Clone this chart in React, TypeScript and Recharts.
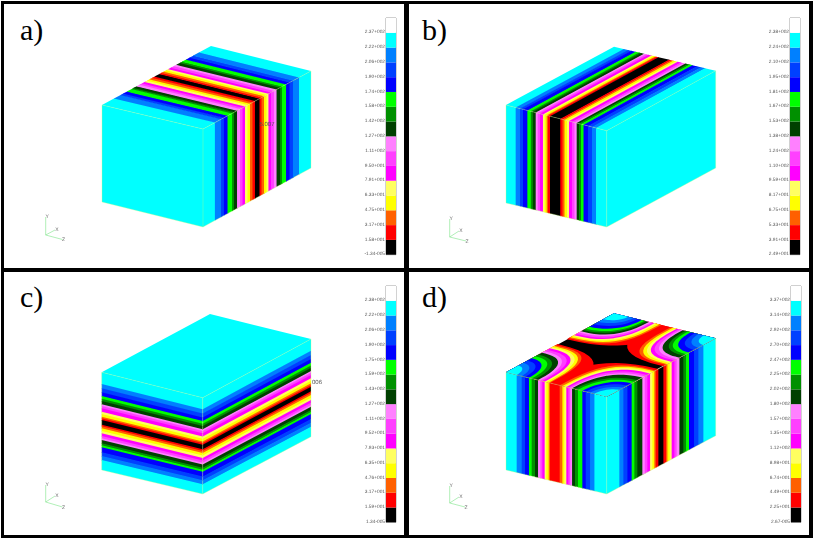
import {
  Area,
  Bar,
  BarChart,
  ComposedChart,
  Line,
  ReferenceArea,
  ReferenceDot,
  XAxis,
  YAxis,
} from "recharts";

// contour colours, bottom of the scale first
const scaleColours = [
  "#000000", "#ff0000", "#ff6000", "#ffff00", "#ffff60", "#ff00ff", "#ff40ff", "#ff80ff",
  "#004000", "#009000", "#00ff00", "#0000ff", "#0040ff", "#0080ff", "#00ffff", "#ffffff",
];
const falling = scaleColours.slice(1, 15).reverse(); // cyan ... red
const stripes = [...falling, "#000000", ...[...falling].reverse()];
const stripesNoBlack = [...falling, ...[...falling].slice(0, 13).reverse()];

// scale labels, bottom of the scale first
const labelsA = ["-1.34-005", "1.58+001", "3.17+001", "4.75+001", "6.33+001", "7.91+001", "9.50+001", "1.11+002", "1.27+002", "1.42+002", "1.58+002", "1.74+002", "1.90+002", "2.06+002", "2.22+002", "2.37+002"];
const labelsB = ["2.49+001", "3.91+001", "5.33+001", "6.75+001", "8.17+001", "9.59+001", "1.10+002", "1.24+002", "1.38+002", "1.53+002", "1.67+002", "1.81+002", "1.95+002", "2.10+002", "2.24+002", "2.38+002"];
const labelsC = ["1.34-005", "1.59+001", "3.17+001", "4.76+001", "6.35+001", "7.93+001", "9.52+001", "1.11+002", "1.27+002", "1.43+002", "1.59+002", "1.75+002", "1.90+002", "2.06+002", "2.22+002", "2.38+002"];
const labelsD = ["2.67-005", "2.25+001", "4.49+001", "6.74+001", "8.98+001", "1.12+002", "1.35+002", "1.57+002", "1.80+002", "2.02+002", "2.25+002", "2.47+002", "2.70+002", "2.92+002", "3.14+002", "3.37+002"];

// band edges read across each face, as a fraction of the face
const edgesA = [0.11, 0.167, 0.194, 0.227, 0.269, 0.287, 0.315, 0.343, 0.366, 0.389, 0.412, 0.435, 0.458, 0.481, 0.523, 0.542, 0.565, 0.588, 0.606, 0.63, 0.657, 0.681, 0.713, 0.731, 0.769, 0.801, 0.833, 0.889];
const edgesB = [0.096, 0.139, 0.169, 0.212, 0.246, 0.266, 0.295, 0.315, 0.338, 0.367, 0.384, 0.404, 0.417, 0.437, 0.539, 0.561, 0.581, 0.606, 0.626, 0.655, 0.68, 0.702, 0.725, 0.745, 0.77, 0.814, 0.854, 0.894];
const edgesC = [0.119, 0.164, 0.205, 0.242, 0.27, 0.294, 0.328, 0.345, 0.369, 0.403, 0.427, 0.454, 0.471, 0.488, 0.536, 0.553, 0.573, 0.601, 0.625, 0.652, 0.676, 0.693, 0.727, 0.747, 0.768, 0.819, 0.857, 0.898];

// panel d, distance of each contour from a corner along an edge
const lfFromL = [0.106, 0.156, 0.189, 0.228, 0.255, 0.288, 0.318, 0.341, 0.361, 0.384, 0.401, 0.424, 0.437, 0.62];
const lfFromF = [0.122, 0.165, 0.208, 0.242, 0.285, 0.315, 0.344, 0.361, 0.381, 0.401, 0.421, 0.44, 0.467, 0.62];
const frFromF = [0.116, 0.153, 0.19, 0.229, 0.254, 0.281, 0.327, 0.349, 0.373, 0.398, 0.419, 0.437, 0.45, 0.474];
const frFromR = [0.113, 0.159, 0.199, 0.245, 0.272, 0.297, 0.333, 0.358, 0.379, 0.404, 0.422, 0.443, 0.456, 0.48];
const brFromR = [0.115, 0.167, 0.203, 0.243, 0.272, 0.298, 0.325, 0.344, 0.364, 0.384, 0.4, 0.423, 0.443, 0.62];
const brFromB = [0.141, 0.19, 0.23, 0.272, 0.298, 0.32, 0.344, 0.364, 0.38, 0.397, 0.42, 0.446, 0.466, 0.62];
const lbFromB = [0.1, 0.145, 0.185, 0.228, 0.26, 0.284, 0.306, 0.327, 0.349, 0.37, 0.386, 0.404, 0.42, 0.438];
const lbFromL = [0.114, 0.16, 0.198, 0.238, 0.272, 0.3, 0.333, 0.358, 0.383, 0.407, 0.426, 0.444, 0.46, 0.478];
const contourRoundness = [2, 2, 2.2, 2.2, 2.4, 2.4, 2.6, 2.6, 2.8, 2.8, 3, 3, 3.2, 2.6];

type Pt = { x: number; y: number };
type Patch = { colour: string; corners: Pt[] };

const lerp = (a: Pt, b: Pt, f: number): Pt => ({ x: a.x + (b.x - a.x) * f, y: a.y + (b.y - a.y) * f });

// a closed outline as rows for a range Area: lowest and highest y at every x
const toRows = (poly: Pt[]) => {
  const xs = [...new Set(poly.map((p) => p.x))].sort((a, b) => a - b);
  return xs.map((x) => {
    const ys: number[] = [];
    poly.forEach((p, i) => {
      const q = poly[(i + 1) % poly.length];
      if (p.x === q.x) {
        if (p.x === x) ys.push(p.y, q.y);
      } else if (x >= Math.min(p.x, q.x) && x <= Math.max(p.x, q.x)) {
        ys.push(p.y + ((q.y - p.y) * (x - p.x)) / (q.x - p.x));
      }
    });
    return { x, band: [Math.min(...ys), Math.max(...ys)] };
  });
};

// stripes across a face, each runs a little under the next one so no seams show
const faceStripes = (p00: Pt, p01: Pt, p10: Pt, p11: Pt, edges: number[], colours: string[]): Patch[] => {
  const from = [0, ...edges];
  return from.map((f, i) => {
    const to = i + 1 < from.length ? from[i + 1] + 0.008 : 1;
    return {
      colour: colours[i],
      corners: [lerp(p00, p10, f), lerp(p01, p11, f), lerp(p01, p11, to), lerp(p00, p10, to)],
    };
  });
};

const plainFace = (corners: Pt[], colour = "#00ffff"): Patch[] => [{ colour, corners }];

// one contour around a corner of the top face of panel d
const cornerContour = (c: Pt, e1: Pt, e2: Pt, a: number, b: number, p: number): Pt[] => {
  const out: Pt[] = [c];
  for (let k = 0; k <= 12; k++) {
    const th = (k / 12) * (Math.PI / 2);
    const s = a * Math.pow(Math.cos(th), 2 / p);
    const t = b * Math.pow(Math.sin(th), 2 / p);
    out.push({
      x: c.x + (e1.x - c.x) * s + (e2.x - c.x) * t,
      y: c.y + (e1.y - c.y) * s + (e2.y - c.y) * t,
    });
  }
  return out;
};

const boxA = { L: { x: 102, y: 105 }, F: { x: 203, y: 129 }, R: { x: 311, y: 71 }, B: { x: 211, y: 46 }, L2: { x: 102, y: 202 }, F2: { x: 203, y: 227 }, R2: { x: 311, y: 168 } };
const boxB = { L: { x: 506, y: 105 }, F: { x: 606.7, y: 130.7 }, R: { x: 715.7, y: 70.7 }, B: { x: 614, y: 46.7 }, L2: { x: 506, y: 203 }, F2: { x: 606.7, y: 227 }, R2: { x: 715.7, y: 168 } };
const boxC = { L: { x: 101.7, y: 372.3 }, F: { x: 202.7, y: 397.7 }, R: { x: 311, y: 339 }, B: { x: 210, y: 314 }, L2: { x: 101.7, y: 470 }, F2: { x: 202.7, y: 494 }, R2: { x: 311, y: 436.7 } };
const boxD = { L: { x: 506, y: 372.3 }, F: { x: 606.7, y: 396.7 }, R: { x: 715.7, y: 338.3 }, B: { x: 614, y: 313.3 }, L2: { x: 506, y: 470 }, F2: { x: 606.7, y: 494 }, R2: { x: 715.7, y: 435.7 } };

const patchesA: Patch[] = [
  ...plainFace([boxA.L, boxA.F, boxA.F2, boxA.L2]),
  ...faceStripes(boxA.F, boxA.F2, boxA.R, boxA.R2, edgesA, stripes),
  ...faceStripes(boxA.F, boxA.L, boxA.R, boxA.B, edgesA, stripes),
];
const patchesB: Patch[] = [
  ...plainFace([boxB.F, boxB.R, boxB.R2, boxB.F2]),
  ...faceStripes(boxB.L, boxB.L2, boxB.F, boxB.F2, edgesB, stripes),
  ...faceStripes(boxB.L, boxB.B, boxB.F, boxB.R, edgesB, stripes),
];
const patchesC: Patch[] = [
  ...plainFace([boxC.L, boxC.B, boxC.R, boxC.F]),
  ...faceStripes(boxC.L, boxC.F, boxC.L2, boxC.F2, edgesC, stripes),
  ...faceStripes(boxC.F, boxC.R, boxC.F2, boxC.R2, edgesC, stripes),
];

const lfEdgesD = [...lfFromL.slice(0, 13), ...lfFromF.slice(0, 13).map((v) => 1 - v).reverse()];
const frEdgesD = [...frFromF, ...frFromR.map((v) => 1 - v).reverse()];
const topCentre = lerp(boxD.L, boxD.R, 0.5);
const topD: Patch[] = plainFace([boxD.L, boxD.B, boxD.R, boxD.F].map((c) => lerp(c, topCentre, 0.015)), "#000000");
for (let lv = 13; lv >= 0; lv--) {
  const p = contourRoundness[lv];
  const colour = falling[lv];
  topD.push(
    { colour, corners: cornerContour(boxD.L, boxD.F, boxD.B, lfFromL[lv], lbFromL[lv], p) },
    { colour, corners: cornerContour(boxD.F, boxD.L, boxD.R, lfFromF[lv], frFromF[lv], p) },
    { colour, corners: cornerContour(boxD.R, boxD.F, boxD.B, frFromR[lv], brFromR[lv], p) },
    { colour, corners: cornerContour(boxD.B, boxD.L, boxD.R, lbFromB[lv], brFromB[lv], p) },
  );
}
const patchesD: Patch[] = [
  ...faceStripes(boxD.L, boxD.L2, boxD.F, boxD.F2, lfEdgesD, stripesNoBlack),
  ...faceStripes(boxD.F, boxD.F2, boxD.R, boxD.R2, frEdgesD, stripes),
  ...topD,
];

type Box = typeof boxA;
const wireOf = (b: Box): Pt[][] => [
  [b.L, b.F, b.R],
  [b.F, b.F2],
  [b.L, b.L2, b.F2, b.R2, b.R],
];

const Legend = ({ labels, left, top, height }: { labels: string[]; left: number; top: number; height: number }) => {
  const row: Record<string, number | string> = { name: "scale" };
  scaleColours.forEach((_, i) => (row[`b${i}`] = 1));
  return (
    <div style={{ position: "absolute", left: left - 50, top: top - 2, filter: "blur(0.4px)", textRendering: "geometricPrecision" }}>
      <BarChart width={63} height={height + 4} data={[row]} margin={{ top: 2, right: 3, bottom: 2, left: 0 }} barCategoryGap={0}>
        <XAxis dataKey="name" hide />
        <YAxis
          type="number"
          domain={[0, 16]}
          ticks={labels.map((_, i) => i)}
          interval={0}
          width={50}
          axisLine={false}
          tickLine={false}
          tickSize={0}
          tickMargin={1}
          tick={{ fontSize: 4.8, fill: "#555", fontFamily: "Liberation Sans", dy: -1 }}
          tickFormatter={(v: number) => labels[v]}
        />
        {scaleColours.map((c, i) => (
          <Bar key={c} dataKey={`b${i}`} stackId="s" fill={c} isAnimationActive={false} />
        ))}
        <ReferenceArea y1={0} y2={16} fill="none" stroke="#8c8c8c" strokeWidth={0.8} />
      </BarChart>
    </div>
  );
};

type PanelProps = {
  left: number;
  top: number;
  height: number;
  letter: string;
  patches: Patch[];
  box: Box;
  triad: { o: Pt; y: Pt; x: Pt; z: Pt };
  note?: { text: string; at: Pt };
};

const Panel = ({ left, top, height, letter, patches, box, triad, note }: PanelProps) => (
  <div style={{ position: "absolute", left, top, width: 400, height, background: "#fff", overflow: "hidden" }}>
    <div style={{ filter: "blur(0.45px)", textRendering: "geometricPrecision" }}>
      <ComposedChart width={400} height={height} margin={{ top: 0, right: 0, bottom: 0, left: 0 }}>
        <XAxis type="number" dataKey="x" domain={[left, left + 400]} hide allowDataOverflow />
        <YAxis type="number" domain={[top, top + height]} reversed hide allowDataOverflow />
        {patches.map((p, i) => (
          <Area
            key={i}
            data={toRows(p.corners)}
            dataKey="band"
            type="linear"
            fill={p.colour}
            fillOpacity={1}
            stroke="none"
            dot={false}
            activeDot={false}
            isAnimationActive={false}
          />
        ))}
        {wireOf(box).map((w, i) => (
          <Line key={i} data={w} dataKey="y" stroke="#c4ff78" strokeOpacity={0.65} strokeWidth={0.5} dot={false} activeDot={false} isAnimationActive={false} />
        ))}
        {[triad.y, triad.x, triad.z].map((end, i) => (
          <Line key={i} data={[triad.o, end]} dataKey="y" stroke="#8fe89a" strokeWidth={0.7} dot={false} activeDot={false} isAnimationActive={false} />
        ))}
        {(
          [
            ["Y", triad.y, 1.5, -1],
            ["X", triad.x, 2, -1],
            ["Z", triad.z, 1, 0],
          ] as [string, Pt, number, number][]
        ).map(([t, at, dx, dy]) => (
          <ReferenceDot
            key={t}
            x={at.x + dx}
            y={at.y + dy}
            r={0}
            stroke="none"
            label={{ value: t, fontSize: 5, fill: "#666", fontFamily: "Liberation Sans" }}
          />
        ))}
        {note && (
          <ReferenceDot
            x={note.at.x}
            y={note.at.y}
            r={0}
            stroke="none"
            label={{ value: note.text, fontSize: 6, fill: "#555", fontFamily: "Liberation Sans" }}
          />
        )}
      </ComposedChart>
    </div>
    <div
      style={{
        position: "absolute",
        left: letter === "a)" || letter === "c)" ? 16 : 13,
        top: letter === "a)" || letter === "b)" ? 9 : 8,
        fontFamily: "Liberation Serif",
        fontSize: 30,
        lineHeight: "34px",
        color: "#000",
      }}
    >
      {letter}
    </div>
  </div>
);

export default function App() {
  return (
    <div style={{ position: "absolute", left: 0, top: 0, width: 814, height: 540, background: "#fff", overflow: "hidden" }}>
      <div style={{ position: "absolute", left: 1, top: 1, width: 812, height: 537, background: "#000" }} />
      <Panel
        left={4}
        top={4}
        height={264}
        letter="a)"
        patches={patchesA}
        box={boxA}
        triad={{ o: { x: 45.7, y: 235 }, y: { x: 45.7, y: 217 }, x: { x: 55, y: 230 }, z: { x: 62.5, y: 239.5 } }}
        note={{ text: "5.007", at: { x: 267, y: 124 } }}
      />
      <Panel
        left={409}
        top={4}
        height={264}
        letter="b)"
        patches={patchesB}
        box={boxB}
        triad={{ o: { x: 449.7, y: 237 }, y: { x: 449.7, y: 219 }, x: { x: 459, y: 231 }, z: { x: 466, y: 241 } }}
      />
      <Panel
        left={4}
        top={272}
        height={263}
        letter="c)"
        patches={patchesC}
        box={boxC}
        triad={{ o: { x: 45.7, y: 502 }, y: { x: 45.7, y: 485 }, x: { x: 55, y: 496 }, z: { x: 62.5, y: 507 } }}
        note={{ text: "006", at: { x: 317, y: 382 } }}
      />
      <Panel
        left={409}
        top={272}
        height={263}
        letter="d)"
        patches={patchesD}
        box={boxD}
        triad={{ o: { x: 449.7, y: 503 }, y: { x: 449.7, y: 486 }, x: { x: 459, y: 497 }, z: { x: 465, y: 507 } }}
      />
      <Legend labels={labelsA} left={386.3} top={18.3} height={236.7} />
      <Legend labels={labelsB} left={790.3} top={18.3} height={236.7} />
      <Legend labels={labelsC} left={386.3} top={286} height={236.3} />
      <Legend labels={labelsD} left={790.7} top={286} height={236.3} />
    </div>
  );
}
